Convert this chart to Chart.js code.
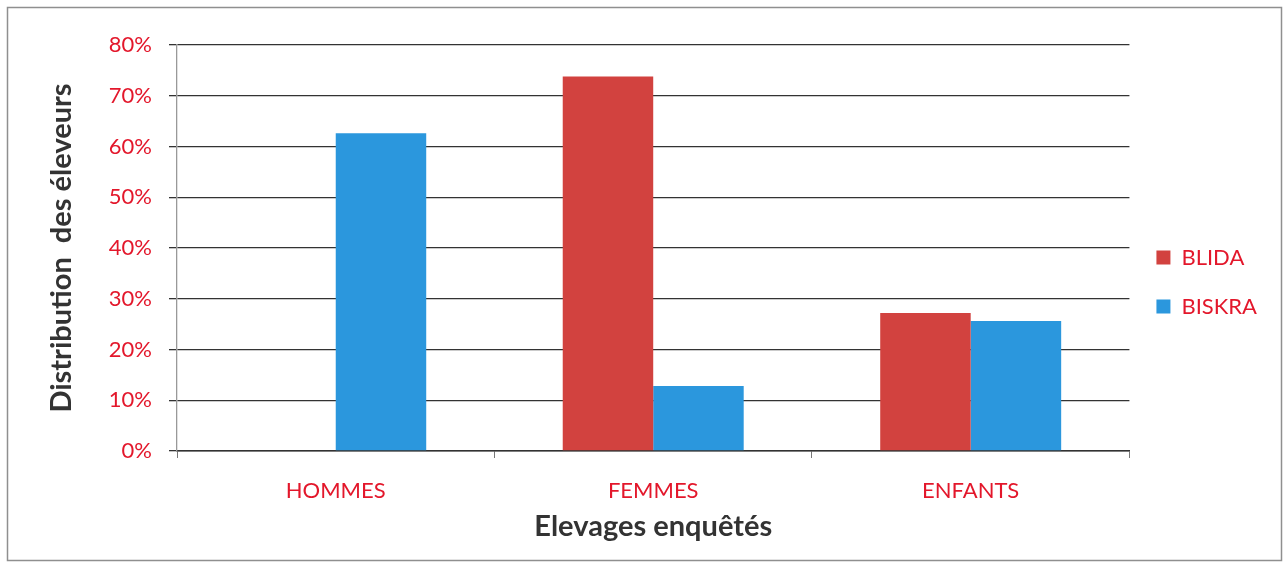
<!DOCTYPE html>
<html>
<head>
<meta charset="utf-8">
<script src="https://cdn.jsdelivr.net/npm/chart.js@4"></script>
<style>
  html, body { margin: 0; padding: 0; background: #fff; }
  #wrap { width: 1284px; height: 562px; }
</style>
</head>
<body>
<div id="wrap"><canvas id="myChart" width="1284" height="562"></canvas></div>
<script>
const categories = ['HOMMES', 'FEMMES', 'ENFANTS'];
const blida = [0, 73.8, 27.2];
const biskra = [62.6, 12.8, 25.6];
const seriesNames = ['BLIDA', 'BISKRA'];

const red = '#e3172b';
const font = 'Lato, "Open Sans", sans-serif';

// grey outer frame around the whole figure
const framePlugin = {
  id: 'frame',
  beforeDraw(chart) {
    const c = chart.ctx;
    c.save();
    c.fillStyle = '#fff';
    c.fillRect(0, 0, chart.width, chart.height);
    c.strokeStyle = '#8f8f8f';
    c.lineWidth = 1.5;
    c.strokeRect(7.5, 7.5, 1274, 553);
    c.restore();
  }
};

const ctx = document.getElementById('myChart').getContext('2d');
const myChart = new Chart(ctx, {
  type: 'bar',
  data: {
    labels: categories,
    datasets: [
      { label: seriesNames[0], data: blida, backgroundColor: '#d2423f' },
      { label: seriesNames[1], data: biskra, backgroundColor: '#2b97dd' }
    ]
  },
  plugins: [framePlugin],
  options: {
    responsive: false,
    animation: false,
    // bottom padding keeps the legend centred a little below the middle
    layout: { padding: { top: 45, bottom: 43, left: 44, right: 17 } },
    datasets: { bar: { categoryPercentage: 0.57, barPercentage: 1.0 } },
    plugins: {
      tooltip: { enabled: false },
      legend: {
        position: 'right',
        labels: {
          color: red,
          font: { family: font, size: 22 },
          boxWidth: 14,
          boxHeight: 14,
          padding: 27
        }
      }
    },
    scales: {
      x: {
        grid: { drawOnChartArea: false, offset: true, tickLength: 7, color: '#777' },
        border: { color: '#333', width: 1.5 },
        ticks: { color: red, font: { family: font, size: 22 }, padding: 20 },
        title: {
          display: true,
          text: 'Elevages enquêtés',
          color: '#333',
          font: { family: font, size: 29, weight: 'bold' },
          // the axis box ends above the title, so push it down past the padding
          padding: { top: 0, bottom: -25 }
        },
        afterFit(scale) { scale.height = 68; }
      },
      y: {
        min: 0,
        max: 80,
        ticks: {
          stepSize: 10,
          color: red,
          font: { family: font, size: 22 },
          padding: 17,
          callback: v => v + '%'
        },
        grid: { color: '#333', lineWidth: 1.3, tickLength: 8 },
        border: { color: '#999', width: 1.3 },
        title: {
          display: true,
          text: 'Distribution  des éleveurs',
          color: '#333',
          font: { family: font, size: 29, weight: 'bold' },
          padding: 0
        },
        afterFit(scale) { scale.width = 133; }
      }
    }
  }
});
</script>
</body>
</html>
